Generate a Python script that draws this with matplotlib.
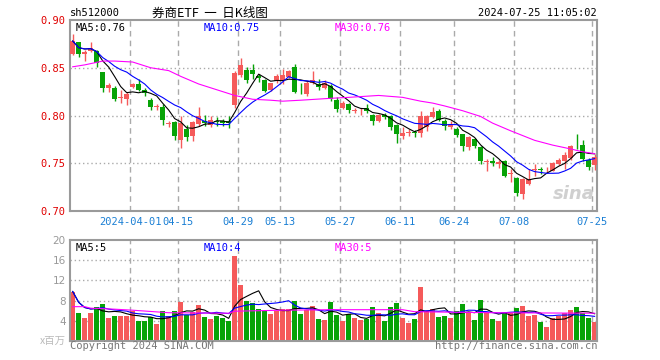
import numpy as np
import pandas as pd
import matplotlib
matplotlib.use("Agg")
import matplotlib.pyplot as plt

plt.rcParams['font.family'] = ['DejaVu Sans', 'Noto Sans CJK SC']

# dados (88 pregões, 2024-03-18 .. 2024-07-25)
opens = [0.864, 0.877, 0.864, 0.868, 0.868, 0.846, 0.829, 0.829, 0.818, 0.817,
         0.830, 0.833, 0.827, 0.816, 0.809, 0.809, 0.791, 0.793, 0.774, 0.786,
         0.779, 0.791, 0.794, 0.790, 0.794, 0.794, 0.794, 0.811, 0.842, 0.848,
         0.848, 0.841, 0.837, 0.827, 0.836, 0.836, 0.840, 0.851, 0.832, 0.823,
         0.834, 0.833, 0.829, 0.831, 0.816, 0.808, 0.812, 0.805, 0.8045, 0.808,
         0.801, 0.794, 0.801, 0.799, 0.790, 0.779, 0.782, 0.7825, 0.782, 0.788,
         0.798, 0.805, 0.794, 0.788, 0.786, 0.781, 0.767, 0.775, 0.767, 0.7515,
         0.752, 0.749, 0.752, 0.739, 0.735, 0.718, 0.7285, 0.743, 0.7434, 0.7427,
         0.742, 0.749, 0.752, 0.756, 0.7746, 0.769, 0.753, 0.748]
highs = [0.885, 0.877, 0.869, 0.877, 0.869, 0.846, 0.834, 0.831, 0.827, 0.825,
         0.834, 0.838, 0.829, 0.818, 0.8125, 0.812, 0.794, 0.794, 0.799, 0.790,
         0.794, 0.809, 0.801, 0.800, 0.798, 0.796, 0.799, 0.8465, 0.860, 0.851,
         0.854, 0.843, 0.8385, 0.834, 0.843, 0.849, 0.848, 0.8535, 0.834, 0.836,
         0.847, 0.838, 0.837, 0.833, 0.819, 0.815, 0.8135, 0.808, 0.8076, 0.8125,
         0.802, 0.802, 0.803, 0.801, 0.791, 0.7875, 0.786, 0.785, 0.805, 0.801,
         0.809, 0.807, 0.796, 0.794, 0.788, 0.781, 0.779, 0.776, 0.768, 0.7545,
         0.757, 0.7535, 0.753, 0.744, 0.736, 0.735, 0.744, 0.749, 0.7465, 0.7465,
         0.751, 0.756, 0.7615, 0.769, 0.781, 0.774, 0.756, 0.760]
lows = [0.863, 0.861, 0.857, 0.866, 0.851, 0.825, 0.825, 0.815, 0.8135, 0.811,
        0.8285, 0.826, 0.8205, 0.806, 0.8056, 0.790, 0.788, 0.774, 0.766, 0.7736,
        0.7736, 0.789, 0.789, 0.788, 0.789, 0.789, 0.787, 0.8076, 0.840, 0.834,
        0.838, 0.8355, 0.825, 0.826, 0.834, 0.833, 0.839, 0.824, 0.822, 0.820,
        0.8326, 0.827, 0.828, 0.815, 0.804, 0.8066, 0.803, 0.8024, 0.8007, 0.803,
        0.790, 0.7927, 0.796, 0.785, 0.771, 0.775, 0.7785, 0.7778, 0.7778, 0.784,
        0.797, 0.794, 0.785, 0.786, 0.778, 0.763, 0.764, 0.766, 0.749, 0.742,
        0.7476, 0.745, 0.736, 0.730, 0.716, 0.713, 0.727, 0.737, 0.739, 0.7396,
        0.7417, 0.7486, 0.744, 0.7535, 0.765, 0.752, 0.743, 0.743]
closes = [0.878, 0.864, 0.867, 0.871, 0.855, 0.829, 0.8316, 0.817, 0.819, 0.823,
          0.833, 0.827, 0.824, 0.809, 0.8094, 0.795, 0.7913, 0.779, 0.792, 0.778,
          0.793, 0.799, 0.7924, 0.795, 0.793, 0.792, 0.7917, 0.844, 0.853, 0.837,
          0.843, 0.8395, 0.826, 0.834, 0.841, 0.842, 0.847, 0.825, 0.8316, 0.834,
          0.837, 0.830, 0.834, 0.817, 0.807, 0.8135, 0.806, 0.8056, 0.805, 0.805,
          0.794, 0.801, 0.798, 0.7875, 0.781, 0.782, 0.7825, 0.782, 0.800, 0.799,
          0.804, 0.795, 0.789, 0.791, 0.780, 0.768, 0.778, 0.768, 0.752, 0.7521,
          0.750, 0.7517, 0.737, 0.7396, 0.719, 0.733, 0.734, 0.7441, 0.7431, 0.7434,
          0.750, 0.7535, 0.759, 0.768, 0.774, 0.7545, 0.746, 0.757]
volume = [9.8, 5.5, 4.6, 5.5, 6.8, 7.4, 4.6, 5.0, 5.0, 5.0,
          6.0, 4.0, 4.0, 4.7, 3.4, 6.0, 4.9, 6.0, 7.8, 5.1,
          5.8, 7.2, 4.7, 4.4, 4.9, 4.5, 3.9, 16.8, 11.0, 8.0,
          7.5, 6.4, 5.9, 5.4, 6.0, 6.4, 6.4, 8.0, 5.4, 6.1,
          7.0, 4.4, 4.2, 7.8, 5.2, 4.0, 5.3, 4.6, 4.2, 4.3,
          6.8, 5.6, 4.0, 6.8, 7.6, 4.6, 3.6, 4.4, 10.6, 6.0,
          6.4, 4.8, 5.0, 4.6, 6.0, 7.4, 5.8, 4.2, 8.2, 5.8,
          4.4, 4.0, 5.6, 5.6, 6.6, 7.0, 5.0, 5.2, 3.8, 2.8,
          4.6, 5.0, 5.6, 6.2, 6.8, 5.6, 4.6, 3.8]

# MA30 lido em alguns pontos (depende de dados anteriores a janela)
ma30_idx = [0, 2, 5, 7, 10, 13, 16, 18, 21, 24, 27, 30, 33, 35, 38, 43, 46, 51,
            55, 58, 60, 62, 65, 68, 70, 73, 77, 80, 83, 85, 87]
ma30_val = [0.851, 0.853, 0.857, 0.857, 0.856, 0.850, 0.847, 0.841, 0.833, 0.827,
            0.821, 0.817, 0.816, 0.815, 0.816, 0.818, 0.819, 0.821, 0.819, 0.815,
            0.813, 0.810, 0.805, 0.799, 0.792, 0.784, 0.774, 0.769, 0.765, 0.762, 0.760]
vma30_idx = [0, 2, 3, 7, 10, 16, 26, 27, 35, 43, 55, 57, 70, 87]
vma30_val = [6.8, 6.8, 6.5, 6.3, 6.1, 5.6, 5.5, 5.9, 6.1, 6.2, 6.2, 5.8, 5.6, 5.5]

tick_idx = [10, 18, 28, 35, 45, 55, 64, 74, 87]
tick_lbl = ['2024-04-01', '04-15', '04-29', '05-13', '05-27', '06-11', '06-24', '07-08', '07-25']

RED = '#f55a5a'
GREEN = '#07a307'
GRID = '#aaaaaa'
FRAME = '#9a9a9a'
MONO = 'DejaVu Sans Mono'
LW = 0.8

n = len(closes)
x = np.arange(n)
o = np.array(opens); c = np.array(closes)
h = np.array(highs); l = np.array(lows)
up = c >= o
cores = np.where(up, RED, GREEN)

ma5 = pd.Series(closes).rolling(5, min_periods=1).mean()
ma10 = pd.Series(closes).rolling(10, min_periods=1).mean()
vma5 = pd.Series(volume).rolling(5, min_periods=1).mean()
vma10 = pd.Series(volume).rolling(10, min_periods=1).mean()

W, H = 660, 360
def caixa(esq, topo, dir, base):
    return [esq / W, 1 - base / H, (dir - esq) / W, (base - topo) / H]

fig = plt.figure(figsize=(6.6, 3.6), dpi=100)
ax = fig.add_axes(caixa(70, 20, 597, 211))
axv = fig.add_axes(caixa(70, 240, 597, 341))

vpos = np.array(tick_idx) - 0.4
for a in (ax, axv):
    a.set_xlim(-0.45, 87.4)
    for s in a.spines.values():
        s.set_color(FRAME)
        s.set_linewidth(1.5)
    for xv in vpos:
        a.axvline(xv, color=GRID, lw=1, ls=(0, (4, 3)), zorder=0)
    a.tick_params(length=0)

# candles
ax.set_ylim(0.70, 0.90)
for yv in [0.75, 0.80, 0.85]:
    ax.axhline(yv, color=GRID, lw=1, ls=(0, (1, 2)), zorder=0)
ax.vlines(x, l, h, colors=cores, lw=1, zorder=2)
corpo = np.maximum(np.abs(c - o), 0.0007)
ax.bar(x, corpo, bottom=np.minimum(o, c), width=0.8, color=cores, zorder=3)
ax.plot(x, ma5, color='black', lw=LW, zorder=4)
ax.plot(x, ma10, color='#0000ff', lw=LW, zorder=4)
ax.plot(ma30_idx, ma30_val, color='#ff00ff', lw=LW, zorder=4)

ax.set_yticks([0.70, 0.75, 0.80, 0.85, 0.90])
ax.set_yticklabels(['0.70', '0.75', '0.80', '0.85', '0.90'], color='#e00000',
                   fontfamily=MONO, fontsize=7.5)
ax.set_xticks(vpos)
ax.set_xticklabels(tick_lbl, color='#1a7fd4', fontfamily=MONO, fontsize=7.5)
ax.tick_params(axis='y', pad=3)
ax.tick_params(axis='x', pad=4)

ax.text(0.01, 0.985, 'MA5:0.76', transform=ax.transAxes, va='top', ha='left',
        fontfamily=MONO, fontsize=7.5, color='black')
ax.text(0.254, 0.985, 'MA10:0.75', transform=ax.transAxes, va='top', ha='left',
        fontfamily=MONO, fontsize=7.5, color='#0000ff')
ax.text(0.503, 0.985, 'MA30:0.76', transform=ax.transAxes, va='top', ha='left',
        fontfamily=MONO, fontsize=7.5, color='#ff00ff')
ax.text(0.995, 0.04, 'sina', transform=ax.transAxes, ha='right', va='bottom',
        fontsize=13, fontweight='bold', fontstyle='italic', color='#d0d0d0', zorder=1)

# volume
axv.set_ylim(0, 20)
for yv in [4, 8, 12, 16]:
    axv.axhline(yv, color=GRID, lw=1, ls=(0, (1, 2)), zorder=0)
axv.bar(x, volume, width=0.85, color=cores, zorder=2)
axv.plot(x, vma5, color='black', lw=LW, zorder=3)
axv.plot(x, vma10, color='#0000ff', lw=LW, zorder=3)
axv.plot(vma30_idx, vma30_val, color='#ff00ff', lw=LW, zorder=3)
axv.set_yticks([4, 8, 12, 16, 20])
axv.set_yticklabels(['4', '8', '12', '16', '20'], color='#999999', fontsize=7.5)
axv.tick_params(axis='y', pad=3)
axv.set_xticks([])

axv.text(0.01, 0.97, 'MA5:5', transform=axv.transAxes, va='top', ha='left',
         fontfamily=MONO, fontsize=7.5, color='black')
axv.text(0.254, 0.97, 'MA10:4', transform=axv.transAxes, va='top', ha='left',
         fontfamily=MONO, fontsize=7.5, color='#0000ff')
axv.text(0.503, 0.97, 'MA30:5', transform=axv.transAxes, va='top', ha='left',
         fontfamily=MONO, fontsize=7.5, color='#ff00ff')

# textos de cabecalho e rodape
fig.text(70 / W, 1 - 13 / H, 'sh512000', ha='left', va='center',
         fontfamily=MONO, fontsize=7.5, color='black')
fig.text(210 / W, 1 - 13 / H, '券商ETF  一  日K线图', ha='center', va='center',
         family=['Noto Sans CJK SC', 'DejaVu Sans'], fontsize=9, color='black')
fig.text(597 / W, 1 - 13 / H, '2024-07-25 11:05:02', ha='right', va='center',
         fontfamily=MONO, fontsize=7.5, color='black')
fig.text(66 / W, 1 - 341 / H, 'x百万', ha='right', va='center',
         family=['Noto Sans CJK SC', 'DejaVu Sans'], fontsize=7.5, color='#bbbbbb')
fig.text(70 / W, 1 - 346 / H, 'Copyright 2024 SINA.COM', ha='left', va='center',
         fontfamily=MONO, fontsize=7.5, color='#777777')
fig.text(597 / W, 1 - 346 / H, 'http://finance.sina.com.cn', ha='right', va='center',
         fontfamily=MONO, fontsize=7.5, color='#777777')

fig.savefig('out.png', dpi=100, facecolor='white')
